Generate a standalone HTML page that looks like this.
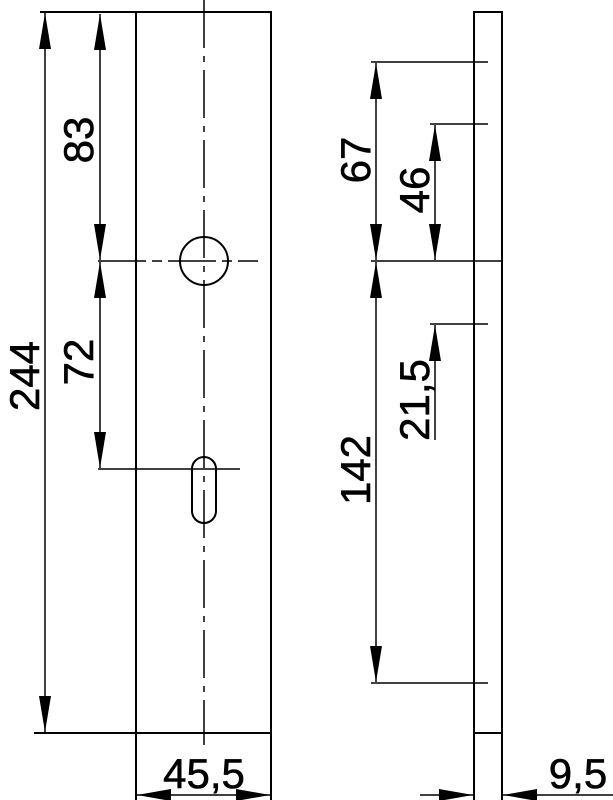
<!DOCTYPE html>
<html><head><style>html,body{margin:0;padding:0;background:#fff}svg{display:block}</style></head>
<body>
<svg width="613" height="800" viewBox="0 0 613 800" xmlns="http://www.w3.org/2000/svg">
<defs>
<marker id="a" viewBox="0 0 10 10" refX="10" refY="5" markerWidth="34" markerHeight="12" markerUnits="userSpaceOnUse" orient="auto-start-reverse" preserveAspectRatio="none">
<path d="M0,0 L10,5 L0,10 z" fill="#000"/></marker>
<marker id="b" viewBox="0 0 40 10" refX="40" refY="5" markerWidth="36" markerHeight="12" markerUnits="userSpaceOnUse" orient="auto-start-reverse" preserveAspectRatio="none">
<path d="M0,0 L40,5 L0,10 z" fill="#000"/></marker>
</defs>
<g stroke="#000" stroke-width="2" fill="none">
<rect x="136" y="12" width="135" height="721"/>
<line x1="40" y1="12" x2="136" y2="12"/>
<line x1="34" y1="733" x2="136" y2="733"/>
<line x1="204" y1="0" x2="204" y2="745" stroke-width="1.5" stroke-dasharray="48,8,6,8"/>
<circle cx="204" cy="261" r="24"/>
<line x1="98" y1="261" x2="258" y2="261" stroke-width="1.5" stroke-dasharray="48,6,10,6"/>
<rect x="192" y="457" width="24" height="66" rx="12"/>
<line x1="98" y1="469" x2="240" y2="469" stroke-width="1.5"/>
<line x1="45" y1="13" x2="45" y2="732" stroke-width="1.5" marker-start="url(#b)" marker-end="url(#b)"/>
<line x1="100" y1="14" x2="100" y2="260" stroke-width="1.5" marker-start="url(#b)" marker-end="url(#b)"/>
<line x1="100" y1="262" x2="100" y2="468" stroke-width="1.5" marker-start="url(#b)" marker-end="url(#b)"/>
<line x1="136" y1="733" x2="136" y2="800"/>
<line x1="271" y1="733" x2="271" y2="800"/>
<line x1="137" y1="795" x2="270" y2="795" stroke-width="1.5" marker-start="url(#a)" marker-end="url(#a)"/>
<rect x="474" y="12" width="28" height="721"/>
<line x1="371" y1="62" x2="488" y2="62" stroke-width="1.5"/>
<line x1="430" y1="124" x2="488" y2="124" stroke-width="1.5"/>
<line x1="371" y1="261" x2="502" y2="261" stroke-width="1.5"/>
<line x1="430" y1="324" x2="488" y2="324" stroke-width="1.5"/>
<line x1="371" y1="683" x2="488" y2="683" stroke-width="1.5"/>
<line x1="376" y1="63" x2="376" y2="260" stroke-width="1.5" marker-start="url(#b)" marker-end="url(#b)"/>
<line x1="435" y1="125" x2="435" y2="260" stroke-width="1.5" marker-start="url(#b)" marker-end="url(#b)"/>
<line x1="376" y1="262" x2="376" y2="682" stroke-width="1.5" marker-start="url(#b)" marker-end="url(#b)"/>
<line x1="435" y1="440" x2="435" y2="325" stroke-width="1.5" marker-end="url(#b)"/>
<line x1="474" y1="733" x2="474" y2="800"/>
<line x1="502" y1="733" x2="502" y2="800"/>
<line x1="420" y1="795" x2="473" y2="795" stroke-width="1.5" marker-end="url(#a)"/>
<line x1="613" y1="795" x2="503" y2="795" stroke-width="1.5" marker-end="url(#a)"/>
</g>
<g font-family="Liberation Sans, sans-serif" font-size="42" fill="#000" stroke="#000" stroke-width="0.6" text-anchor="middle">
<text transform="translate(39,376) rotate(-90)">244</text>
<text transform="translate(93,140) rotate(-90)">83</text>
<text transform="translate(93,362) rotate(-90)">72</text>
<text transform="translate(370,160) rotate(-90)">67</text>
<text transform="translate(429,190) rotate(-90)">46</text>
<text transform="translate(370,470) rotate(-90)">142</text>
<text transform="translate(429,400) rotate(-90)">21,5</text>
<text x="204" y="788">45,5</text>
<text x="578" y="788">9,5</text>
</g>
</svg>
</body></html>
